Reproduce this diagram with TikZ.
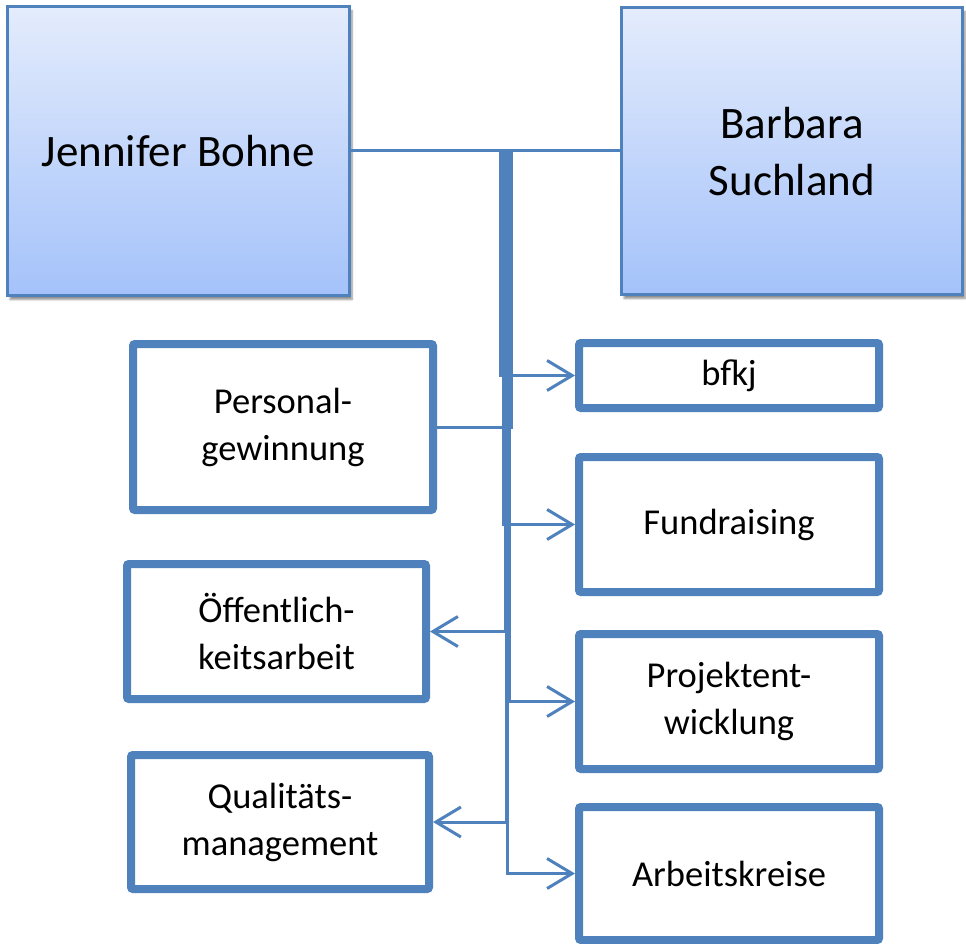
\documentclass[tikz,border=0pt]{standalone}
\usepackage{fontspec}
\setmainfont{Carlito}
\usetikzlibrary{arrows.meta,shadows.blur}
\definecolor{edgeblue}{HTML}{4F81BD}
\definecolor{fillhi}{HTML}{E4ECFC}
\definecolor{filllo}{HTML}{A4C2FA}
\tikzset{
  headbox/.style={draw=edgeblue, line width=3pt, shading=axis,
    top color=fillhi, bottom color=filllo, inner sep=0pt, align=center,
    blur shadow={shadow xshift=2.5pt, shadow yshift=-4pt, shadow blur steps=6, shadow opacity=45},
    font=\fontsize{45}{57}\selectfont},
  unitbox/.style={draw=edgeblue, fill=white, line width=8pt, rounded corners=2pt,
    inner sep=0pt, align=center, font=\fontsize{36.5}{47}\selectfont},
  link/.style={draw=edgeblue, line width=3pt},
  tiplink/.style={link, -{Straight Barb[length=25pt,width=30pt]}}
}
\begin{document}
\begin{tikzpicture}[x=1pt,y=-1pt]
\useasboundingbox (0,0) rectangle (966,944);

% two heads
\node[headbox, minimum width=342pt, minimum height=289pt] (jb) at (178.5,151) {Jennifer Bohne};
\node[headbox, minimum width=341pt, minimum height=287pt, text depth=-4pt] (bs) at (792,151) {Barbara\\Suchland};

% units on the left
\node[unitbox, minimum width=300pt, minimum height=166pt] (pg) at (283,427) {Personal-\\gewinnung};
\node[unitbox, minimum width=299pt, minimum height=135pt] (oa) at (276.5,631.5) {Öffentlich-\\keitsarbeit};
\node[unitbox, minimum width=298pt, minimum height=134pt] (qm) at (280,822) {Qualitäts-\\management};

% units on the right
\node[unitbox, minimum width=300pt, minimum height=65pt] (bf) at (729,375.5) {bfkj};
\node[unitbox, minimum width=300pt, minimum height=135pt] (fr) at (729,524.5) {Fundraising};
\node[unitbox, minimum width=300pt, minimum height=135pt] (pe) at (729,701.5) {Projektent-\\wicklung};
\node[unitbox, minimum width=300pt, minimum height=133pt] (ak) at (729,873.5) {Arbeitskreise};

% line between the heads
\draw[link] (jb.east) -- (jb.east -| bs.west);

% branch points on the head line
\coordinate (j1) at (500.5,151);
\coordinate (j2) at (511.5,151);
\coordinate (j3) at (503,151);
\coordinate (j4) at (505,151);
\coordinate (j5) at (509,151);
\coordinate (j6) at (506.5,151);
\coordinate (j7) at (507.5,151);

% branches to the units
\draw[tiplink] (j1) |- (bf.west);
\draw[link]    (j2) |- (pg.east);
\draw[tiplink] (j3) |- (fr.west);
\draw[tiplink] (j4) |- (oa.east);
\draw[tiplink] (j5) |- (pe.west);
\draw[tiplink] (j6) |- (qm.east);
\draw[tiplink] (j7) |- (ak.west);
\end{tikzpicture}
\end{document}
